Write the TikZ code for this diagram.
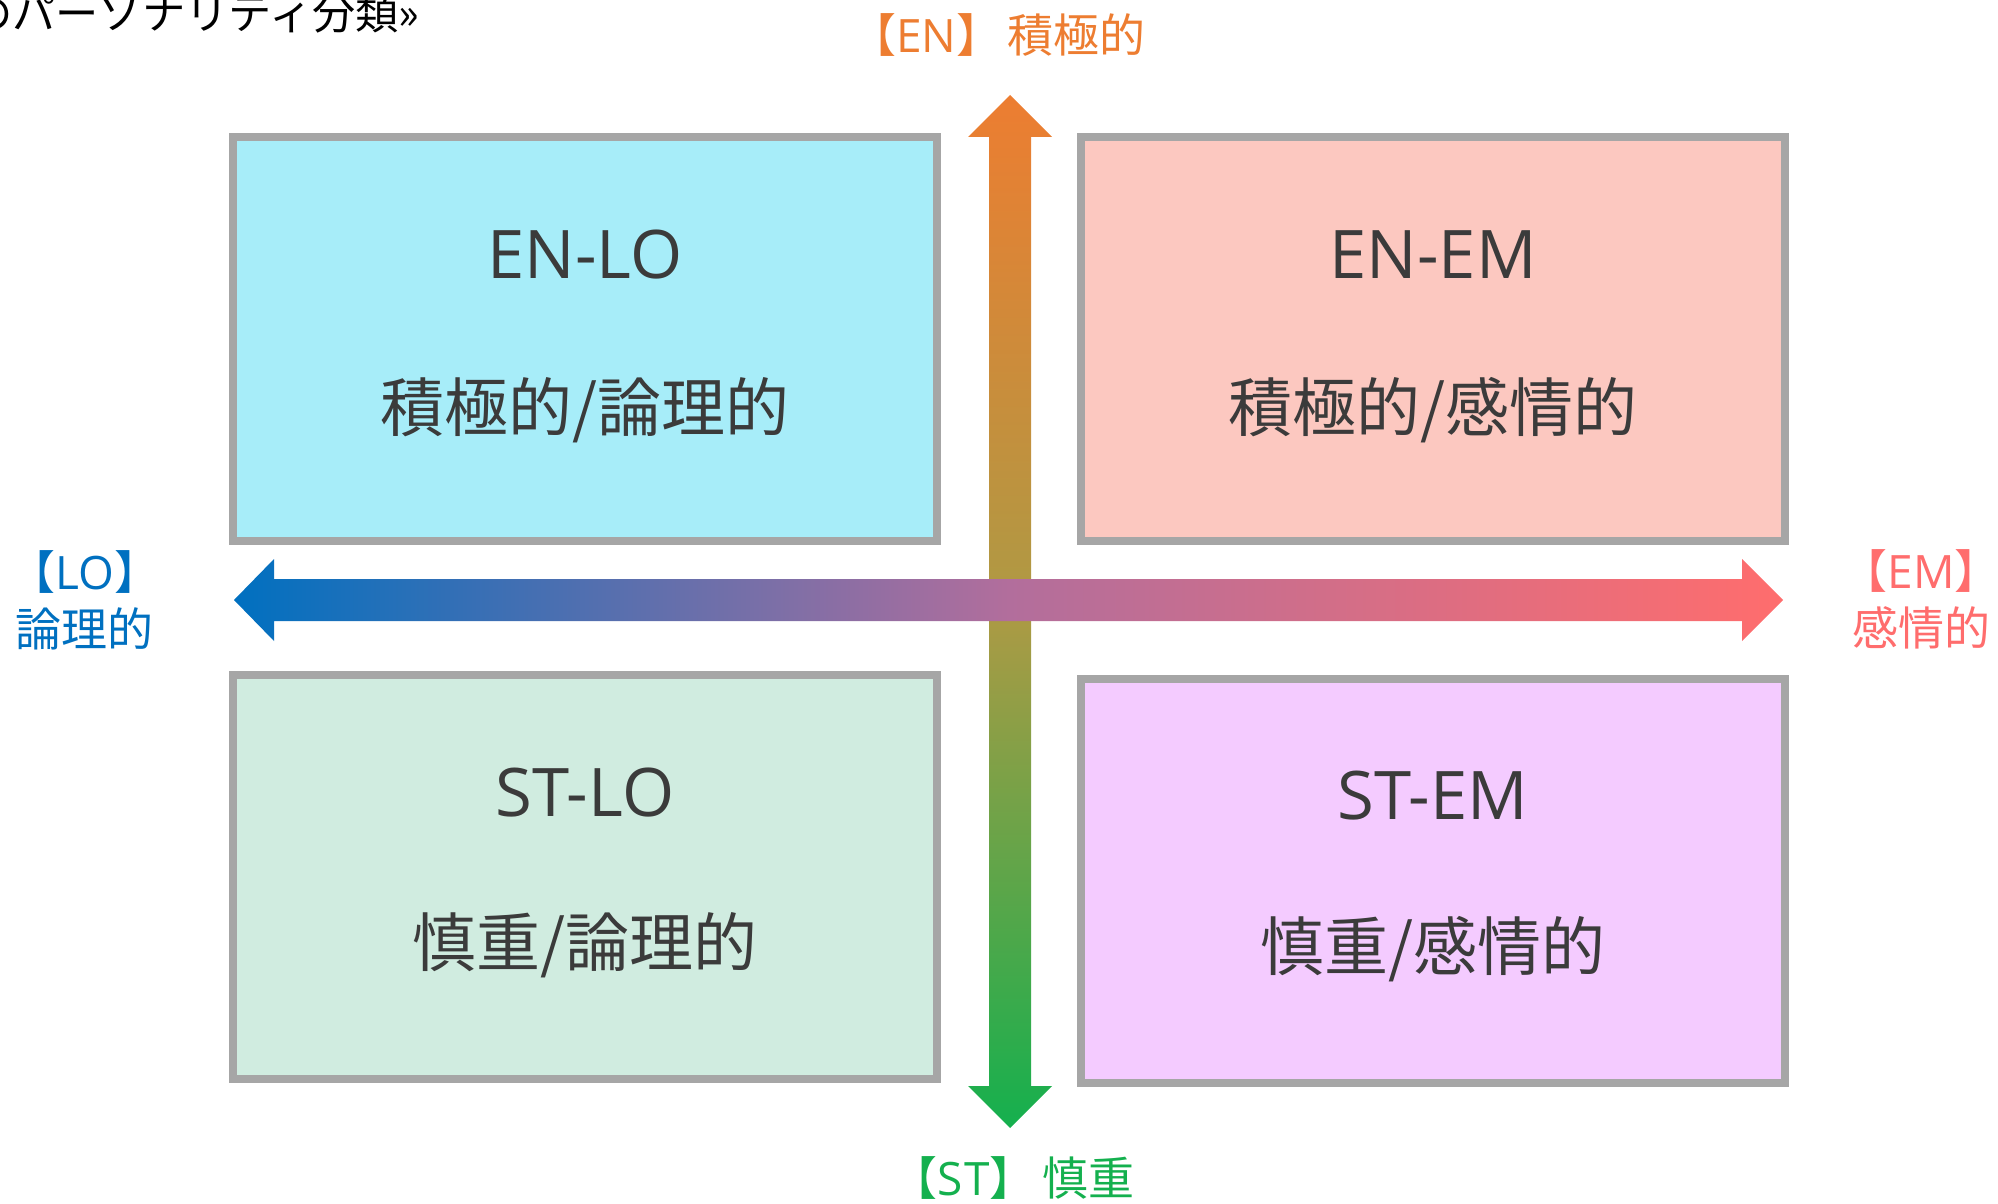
\documentclass[tikz,border=0pt]{standalone}
\usepackage{fontspec}
\setmainfont{Noto Sans CJK JP}
\newfontfamily\latinfont{Open Sans}
\definecolor{enorange}{HTML}{ED7D31}
\definecolor{lobluec}{HTML}{0070C0}
\definecolor{emred}{HTML}{FF6D6D}
\definecolor{stgreen}{HTML}{14B04E}
\definecolor{vmid}{HTML}{AD9A44}
\definecolor{hmid}{HTML}{B26E9C}
\definecolor{fillenlo}{HTML}{A7EDF9}
\definecolor{fillenem}{HTML}{FCC8C0}
\definecolor{fillstlo}{HTML}{D0ECE0}
\definecolor{fillstem}{HTML}{F4CBFF}
\definecolor{boxgray}{HTML}{A6A6A6}
\definecolor{inkgray}{HTML}{3B3B3B}
\begin{document}
\begin{tikzpicture}[x=0.5pt,y=-0.5pt,
  quad/.style={draw=boxgray, line width=4pt, minimum width=352pt, minimum height=202pt, inner sep=0pt},
  boxtitle/.style={text=inkgray, font=\latinfont\fontsize{33.5}{40}\selectfont, inner sep=0pt},
  boxtext/.style={text=inkgray, font=\fontsize{32}{38}\selectfont, inner sep=0pt},
  axislabel/.style={font=\fontsize{23}{28.5}\selectfont, align=center, inner sep=0pt}]
\useasboundingbox (0,0) rectangle (1998,1204);

% heading, partly outside the page
\node[anchor=base west, inner sep=0pt, font=\fontsize{21.6}{25}\selectfont] (heading) at (-31,30) {のパーソナリティ分類»};

% quadrants
\node[quad, fill=fillenlo] (enlo) at (585,339) {};
\node[quad, fill=fillenem] (enem) at (1433,339) {};
\node[quad, fill=fillstlo] (stlo) at (585,877) {};
\node[quad, fill=fillstem] (stem) at (1433,881) {};

\node[boxtitle] (enloA) at (585,255) {EN-LO};
\node[boxtext] (enloB) at (585,410) {積極的/論理的};
\node[boxtitle] (enemA) at (1433,255) {EN-EM};
\node[boxtext] (enemB) at (1433,410) {積極的/感情的};
\node[boxtitle] (stloA) at (585,793) {ST-LO};
\node[boxtext] (stloB) at (585,945) {慎重/論理的};
\node[boxtitle] (stemA) at (1433,796) {ST-EM};
\node[boxtext] (stemB) at (1433,949) {慎重/感情的};

% vertical axis: active (top) to careful (bottom)
\shade[top color=enorange, bottom color=stgreen, middle color=vmid]
  (989,137) -- (968,137) -- (1010,95) -- (1052,137) -- (1031,137) --
  (1031,1086) -- (1052,1086) -- (1010,1128) -- (968,1086) -- (989,1086) -- cycle;

% horizontal axis: logical (left) to emotional (right)
\shade[left color=lobluec, right color=emred, middle color=hmid]
  (274,579) -- (274,559) -- (234,600) -- (274,641) -- (274,621) --
  (1742,621) -- (1742,641) -- (1783,600) -- (1742,559) -- (1742,579) -- cycle;

% axis labels
\node[axislabel, text=enorange] (en) at (998,35) {【{\latinfont EN}】\hspace{0.12em}積極的};
\node[axislabel, text=stgreen] (st) at (1013,1178) {【{\latinfont S\kern0.03em T}】\hspace{0.15em}慎重};
\node[axislabel, text=lobluec] (lo) at (85,600) {【{\latinfont LO}】\\論理的};
\node[axislabel, text=emred] (em) at (1921,599) {【{\latinfont EM}】\\感情的};
\end{tikzpicture}
\end{document}
